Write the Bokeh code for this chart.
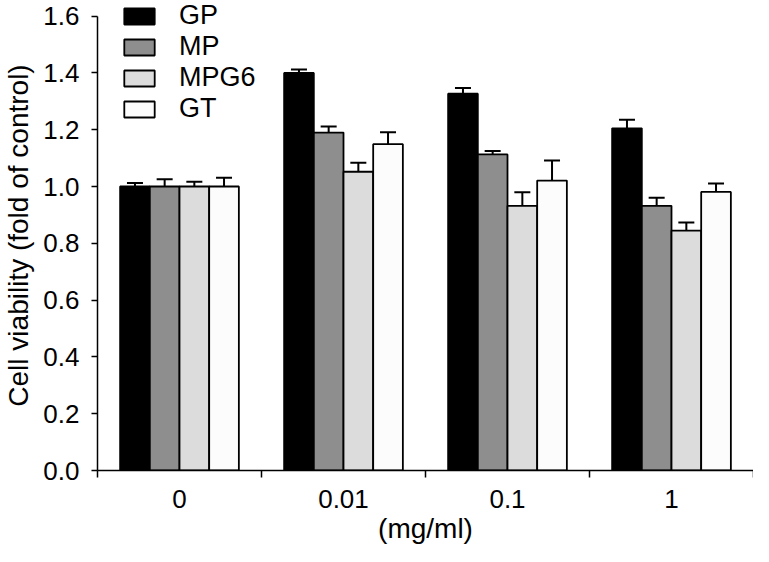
import numpy as np
from bokeh.plotting import figure
from bokeh.models import Range1d, FixedTicker, ColumnDataSource, Whisker, TeeHead, NumeralTickFormatter
from bokeh.embed import file_html
from bokeh.resources import INLINE

# ---- data ----
doses = ["0", "0.01", "0.1", "1"]
series = ["GP", "MP", "MPG6", "GT"]
gp = [1.00, 1.400, 1.327, 1.205]
gp_err = [0.012, 0.012, 0.020, 0.030]
mp = [1.00, 1.190, 1.113, 0.932]
mp_err = [0.026, 0.021, 0.012, 0.028]
mpg6 = [1.00, 1.052, 0.932, 0.845]
mpg6_err = [0.017, 0.032, 0.048, 0.028]
gt = [1.00, 1.149, 1.021, 0.981]
gt_err = [0.031, 0.042, 0.071, 0.030]
y_ticks = [0.0, 0.2, 0.4, 0.6, 0.8, 1.0, 1.2, 1.4, 1.6]

values = [gp, mp, mpg6, gt]
errors = [gp_err, mp_err, mpg6_err, gt_err]
colors = ["#000000", "#8e8e8e", "#dcdcdc", "#fcfcfc"]

FONT = "Liberation Sans"

# y range slightly above the top tick so the legend has room; the axis line stops at 1.6
p = figure(width=753, height=546, output_backend="svg", toolbar_location=None,
           x_range=Range1d(0, len(doses)), y_range=Range1d(0, 1.655),
           min_border_left=97, min_border_right=0, min_border_top=0, min_border_bottom=74)
p.outline_line_color = None
p.grid.visible = False
p.background_fill_color = "white"

bar_w = 0.181
centers = np.arange(len(doses)) + 0.5
offsets = (np.arange(len(series)) - 1.5) * bar_w

for name, vals, errs, col, off in zip(series, values, errors, colors, offsets):
    v = np.array(vals)
    e = np.array(errs)
    src = ColumnDataSource(dict(x=centers + off, y=v, upper=v + e))
    p.vbar(x="x", top="y", bottom=0, width=bar_w, source=src, fill_color=col,
           line_color="black", line_width=1.8, legend_label=name)
    p.add_layout(Whisker(source=src, base="x", upper="upper", lower="y", dimension="height",
                         line_color="black", line_width=2,
                         upper_head=TeeHead(size=16, line_color="black", line_width=2),
                         lower_head=None))

# y axis
ya = p.yaxis[0]
ya.ticker = FixedTicker(ticks=y_ticks)
ya.bounds = (y_ticks[0], y_ticks[-1])
ya.formatter = NumeralTickFormatter(format="0.0")
ya.axis_label = "Cell viability (fold of control)"
ya.axis_line_color = "black"
ya.axis_line_width = 1.5
ya.major_tick_in = 0
ya.major_tick_out = 6
ya.major_tick_line_width = 1.5
ya.major_tick_line_color = "black"
ya.minor_tick_line_color = None
ya.major_label_standoff = 12
ya.axis_label_standoff = 6
ya.major_label_text_font = FONT
ya.major_label_text_font_size = "26px"
ya.major_label_text_color = "black"
ya.axis_label_text_font = FONT
ya.axis_label_text_font_size = "28px"
ya.axis_label_text_font_style = "normal"
ya.axis_label_text_color = "black"

# x axis: labels at group centres, ticks at group boundaries
xa = p.xaxis[0]
xa.ticker = FixedTicker(ticks=list(centers), minor_ticks=list(range(len(doses) + 1)))
xa.major_label_overrides = {float(c): d for c, d in zip(centers, doses)}
xa.major_tick_line_color = None
xa.major_tick_in = 0
xa.major_tick_out = 0
xa.minor_tick_in = 0
xa.minor_tick_out = 7
xa.minor_tick_line_color = "black"
xa.minor_tick_line_width = 1.5
xa.axis_line_color = "black"
xa.axis_line_width = 1.5
xa.axis_label = "(mg/ml)"
xa.major_label_standoff = 12
xa.axis_label_standoff = 2
xa.major_label_text_font = FONT
xa.major_label_text_font_size = "26px"
xa.major_label_text_color = "black"
xa.axis_label_text_font = FONT
xa.axis_label_text_font_size = "28px"
xa.axis_label_text_font_style = "normal"
xa.axis_label_text_color = "black"

# legend
lg = p.legend[0]
lg.location = (23, 346)
lg.glyph_width = 38
lg.glyph_height = 20
lg.label_height = 31
lg.label_standoff = 21
lg.spacing = 0
lg.padding = 0
lg.margin = 0
lg.border_line_color = None
lg.background_fill_alpha = 0
lg.label_text_font = FONT
lg.label_text_font_size = "27px"
lg.label_text_color = "black"

open("out.html", "w").write(file_html(p, INLINE))
